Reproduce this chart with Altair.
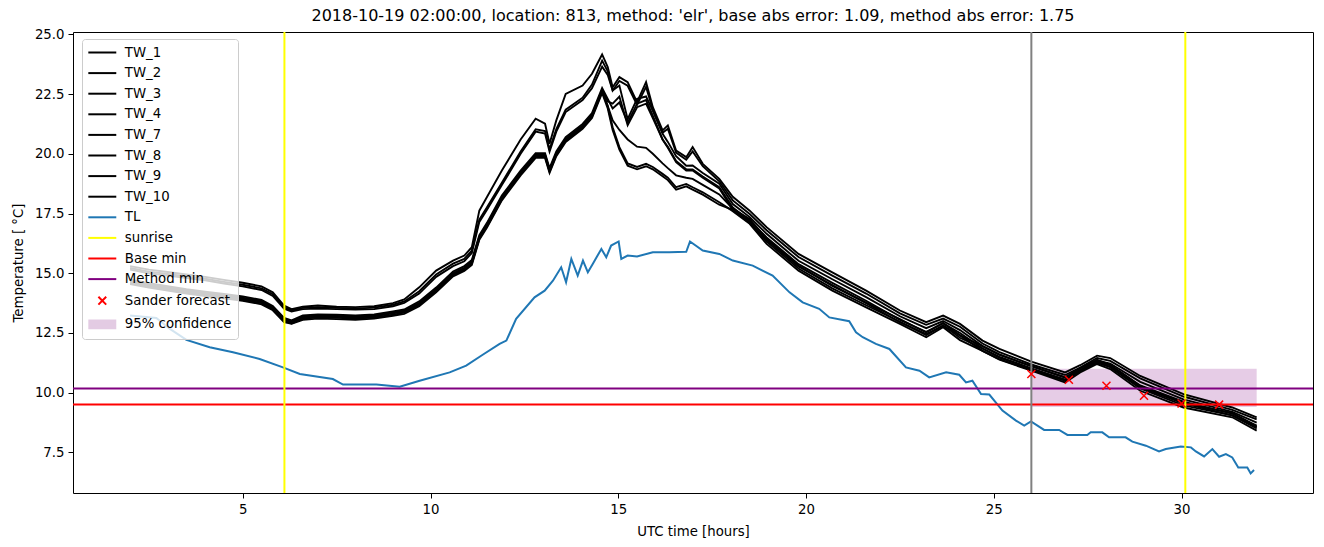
import altair as alt
import pandas as pd

# ---------------- data ----------------
TW_HOURS = [2.0, 2.5, 3.0, 3.5, 4.0, 4.5, 5.0, 5.5, 5.8, 6.1, 6.3, 6.6, 7.0, 7.5, 8.0, 8.5, 9.0, 9.3,
            9.7, 10.15, 10.6, 10.9, 11.1, 11.3, 11.5, 11.9, 12.4, 12.8, 13.05, 13.17, 13.35, 13.6, 14.05, 14.3, 14.57,
            14.72, 14.85, 15.03, 15.25, 15.5, 15.74, 15.92, 16.18, 16.32, 16.54, 16.81, 16.98, 17.25, 17.69,
            18.05, 18.5, 18.95, 19.8, 20.7, 21.6, 22.5, 23.2, 23.65, 24.1, 24.7, 25.15, 26.0, 26.9, 27.3, 27.75,
            28.1, 28.9, 30.05, 31.35, 32.0]

TW_1 = [15.3, 15.15, 15.05, 14.95, 14.85, 14.72, 14.6, 14.45, 14.2, 13.65, 13.5, 13.6, 13.65, 13.6, 13.58, 13.62, 13.75, 13.9,
        14.41, 15.11, 15.53, 15.74, 16.09, 17.62, 18.18, 19.30, 20.6, 21.47, 21.26, 20.42, 21.40, 22.51, 22.86, 23.35, 24.16,
        23.63, 22.79, 23.21, 23.0, 22.16, 23.0, 21.95, 20.98, 21.19, 20.14, 19.86, 20.28, 19.58, 18.95,
        18.2, 17.62, 16.93, 15.81, 15.04, 14.27, 13.44, 12.95, 13.23, 12.88, 12.18, 11.83, 11.3, 10.85, 11.15, 11.55,
        11.45, 10.7, 9.94, 9.38, 8.97]
TW_2 = [15.22, 15.07, 14.97, 14.87, 14.77, 14.64, 14.52, 14.37, 14.12, 13.58, 13.45, 13.55, 13.58, 13.55, 13.52, 13.56, 13.68, 13.82,
        14.25, 14.95, 15.4, 15.6, 15.95, 17.25, 17.75, 18.79, 20.1, 21.03, 20.95, 20.19, 21.03, 21.85, 22.35, 22.9, 23.9,
        23.45, 22.65, 23.05, 22.85, 22.05, 22.8, 21.85, 20.88, 21.05, 20.05, 19.75, 20.1, 19.48, 18.85,
        18.05, 17.48, 16.8, 15.68, 14.9, 14.15, 13.32, 12.84, 13.1, 12.76, 12.06, 11.7, 11.18, 10.74, 11.05, 11.45,
        11.33, 10.6, 9.84, 9.28, 8.88]
TW_3 = [15.15, 15.0, 14.9, 14.8, 14.7, 14.57, 14.45, 14.3, 14.05, 13.52, 13.4, 13.5, 13.52, 13.5, 13.48, 13.5, 13.62, 13.76,
        14.15, 14.85, 15.3, 15.5, 15.85, 17.15, 17.65, 18.69, 20.0, 20.93, 20.85, 20.09, 20.93, 21.75, 22.25, 22.75, 23.65,
        23.3, 22.65, 22.86, 21.45, 22.3, 22.4, 21.8, 20.84, 20.5, 19.9, 19.5, 19.51, 19.2, 18.75,
        17.9, 17.35, 16.65, 15.52, 14.75, 14.0, 13.2, 12.7, 13.0, 12.62, 11.95, 11.6, 11.1, 10.65, 10.95, 11.35,
        11.22, 10.45, 9.72, 9.2, 8.75]
TW_4 = [14.73, 14.58, 14.46, 14.33, 14.23, 14.13, 14.03, 13.88, 13.63, 13.13, 13.03, 13.23, 13.28, 13.26, 13.23, 13.28, 13.4, 13.48,
        13.82, 14.4, 15.07, 15.3, 15.55, 16.6, 17.1, 18.25, 19.3, 20.03, 20.03, 19.4, 20.1, 20.7, 21.25, 21.7, 22.75,
        22.3, 21.9, 22.15, 21.3, 22.1, 22.25, 21.6, 20.6, 20.3, 19.7, 19.35, 19.35, 19.05, 18.6,
        17.75, 17.2, 16.5, 15.38, 14.6, 13.85, 13.05, 12.55, 12.9, 12.5, 11.85, 11.5, 11.02, 10.55, 10.95, 11.3,
        11.15, 10.3, 9.62, 9.12, 8.62]
TW_7 = [14.65, 14.5, 14.38, 14.25, 14.15, 14.05, 13.95, 13.8, 13.55, 13.05, 12.95, 13.15, 13.2, 13.18, 13.15, 13.2, 13.32, 13.4,
        13.72, 14.3, 14.97, 15.2, 15.45, 16.5, 17.0, 18.15, 19.2, 19.93, 19.93, 19.30, 20.0, 20.6, 21.15, 21.6, 22.65,
        22.0, 21.4, 21.0, 20.6, 20.3, 20.25, 20.0, 19.6, 19.4, 19.1, 19.0, 18.95, 18.7, 18.3,
        17.7, 17.27, 16.45, 15.31, 14.47, 13.77, 13.08, 12.52, 12.92, 12.4, 11.95, 11.58, 11.12, 10.63, 11.03, 11.38,
        11.17, 10.28, 9.56, 9.15, 8.58]
TW_8 = [14.6, 14.45, 14.33, 14.2, 14.1, 14.0, 13.9, 13.75, 13.5, 13.0, 12.9, 13.1, 13.15, 13.13, 13.1, 13.15, 13.27, 13.35,
        13.67, 14.25, 14.92, 15.15, 15.4, 16.45, 16.95, 18.1, 19.15, 19.88, 19.88, 19.25, 19.95, 20.55, 21.1, 21.55, 22.6,
        22.0, 21.11, 20.28, 19.6, 19.45, 19.58, 19.45, 19.16, 19.0, 18.60, 18.74, 18.6, 18.39, 17.97,
        17.6, 17.07, 16.23, 15.11, 14.27, 13.57, 12.88, 12.32, 12.74, 12.2, 11.75, 11.38, 10.92, 10.43, 10.85, 11.2,
        10.99, 10.08, 9.38, 8.97, 8.41]
TW_9 = [14.55, 14.4, 14.28, 14.15, 14.05, 13.95, 13.85, 13.7, 13.45, 12.95, 12.88, 13.05, 13.1, 13.08, 13.05, 13.1, 13.22, 13.3,
        13.62, 14.2, 14.87, 15.1, 15.35, 16.4, 16.9, 18.05, 19.1, 19.83, 19.83, 19.2, 19.9, 20.5, 21.05, 21.5, 22.55,
        21.9, 21.0, 20.18, 19.5, 19.35, 19.48, 19.35, 19.06, 18.9, 18.5, 18.64, 18.5, 18.29, 17.87,
        17.65, 17.15, 16.33, 15.2, 14.37, 13.66, 12.97, 12.41, 12.82, 12.3, 11.85, 11.47, 11.0, 10.52, 10.93, 11.28,
        11.07, 10.18, 9.47, 9.05, 8.5]
TW_10 = [14.68, 14.53, 14.41, 14.28, 14.18, 14.08, 13.98, 13.83, 13.58, 13.08, 12.98, 13.18, 13.23, 13.21, 13.18, 13.23, 13.35, 13.43,
         13.75, 14.33, 15.0, 15.23, 15.48, 16.53, 17.03, 18.18, 19.23, 19.96, 19.96, 19.33, 20.03, 20.63, 21.18, 21.63, 22.68,
         22.2, 22.1, 22.4, 21.2, 21.95, 22.1, 21.5, 20.6, 20.25, 19.65, 19.3, 19.3, 19.0, 18.55,
         17.65, 17.1, 16.4, 15.28, 14.5, 13.75, 12.95, 12.45, 12.8, 12.4, 11.75, 11.4, 10.95, 10.5, 10.9, 11.25,
         11.08, 10.22, 9.55, 9.05, 8.55]

TL_HOURS = [2.0, 2.7, 3.06, 3.5, 4.12, 4.74, 5.45, 6.07, 6.52, 7.4, 7.67, 8.56, 9.18, 9.71, 10.51, 10.95, 11.4,
            11.84, 12.02, 12.28, 12.77, 13.04, 13.26, 13.48, 13.61, 13.75, 13.92, 14.06, 14.19, 14.32, 14.55,
            14.68, 14.81, 15.01, 15.08, 15.25, 15.5, 15.92, 16.36, 16.81, 16.91, 17.25, 17.69, 18.05, 18.58,
            19.11, 19.56, 19.91, 20.35, 20.62, 21.15, 21.33, 21.51, 21.86, 22.22, 22.66, 23.02, 23.28, 23.73,
            24.08, 24.26, 24.43, 24.66, 24.88, 25.23, 25.59, 25.81, 25.99, 26.34, 26.74, 26.96, 27.49, 27.58,
            27.89, 28.07, 28.51, 28.69, 29.05, 29.4, 29.58, 29.98, 30.25, 30.38, 30.6, 30.82, 31.0, 31.18,
            31.35, 31.51, 31.75, 31.84, 31.93]
TL_VALUES = [13.23, 13.13, 12.67, 12.21, 11.9, 11.69, 11.41, 11.06, 10.78, 10.57, 10.34, 10.34, 10.25, 10.5, 10.85, 11.13, 11.6,
             12.04, 12.18, 13.09, 13.99, 14.27, 14.69, 15.25, 14.62, 15.6, 14.9, 15.53, 15.04, 15.39, 16.02,
             15.67, 16.16, 16.33, 15.6, 15.74, 15.7, 15.88, 15.88, 15.9, 16.33, 15.95, 15.81, 15.53, 15.32,
             14.9, 14.2, 13.78, 13.51, 13.15, 12.99, 12.53, 12.32, 12.04, 11.83, 11.06, 10.92, 10.64, 10.85,
             10.75, 10.43, 10.5, 9.94, 9.92, 9.25, 8.83, 8.62, 8.80, 8.44, 8.44, 8.23, 8.23, 8.34,
             8.34, 8.13, 8.13, 7.95, 7.78, 7.54, 7.64, 7.75, 7.71, 7.54, 7.33, 7.64, 7.32, 7.43,
             7.29, 6.87, 6.87, 6.62, 6.76]

SUNRISE = [6.11, 30.1]
FORECAST_START = [26.0]
BASE_MIN = [9.51]
METHOD_MIN = [10.18]
SANDER_HOURS = [26, 27, 28, 29, 30, 31]
SANDER_VALUES = [10.78, 10.54, 10.29, 9.87, 9.55, 9.50]
CONF_X = [26.0, 32.0]
CONF_Y = [9.40, 11.0]

LEGEND_LABELS = ["TW_1", "TW_2", "TW_3", "TW_4", "TW_7", "TW_8", "TW_9", "TW_10", "TL",
                 "sunrise", "Base min", "Method min", "Sander forecast", "95% confidence"]
LEGEND_COLORS = ["black"] * 8 + ["#1f77b4", "yellow", "red", "purple", "red", "#e3cbe3"]

TITLE = "2018-10-19 02:00:00, location: 813, method: 'elr', base abs error: 1.09, method abs error: 1.75"

# ---------------- build tables ----------------
tw_series = {"TW_1": TW_1, "TW_2": TW_2, "TW_3": TW_3, "TW_4": TW_4,
             "TW_7": TW_7, "TW_8": TW_8, "TW_9": TW_9, "TW_10": TW_10}
rows = []
for name, vals in tw_series.items():
    assert len(vals) == len(TW_HOURS), name
    for h, v in zip(TW_HOURS, vals):
        rows.append({"h": h, "T": v, "series": name})
tw_df = pd.DataFrame(rows)
tl_df = pd.DataFrame({"h": TL_HOURS, "T": TL_VALUES})
sun_df = pd.DataFrame({"h": SUNRISE})
fc_df = pd.DataFrame({"h": FORECAST_START})
base_df = pd.DataFrame({"T": BASE_MIN})
meth_df = pd.DataFrame({"T": METHOD_MIN})
sander_df = pd.DataFrame({"h": SANDER_HOURS, "T": SANDER_VALUES})
band_df = pd.DataFrame({"x1": [CONF_X[0]], "x2": [CONF_X[1]], "y1": [CONF_Y[0]], "y2": [CONF_Y[1]]})
legend_df = pd.DataFrame({"label": LEGEND_LABELS})

FONT = "DejaVu Sans"
XT = "UTC time [hours]"
YT = "Temperature [ °C]"
xs = alt.Scale(domain=[0.48, 33.5], nice=False, zero=False)
ys = alt.Scale(domain=[5.8, 25.1], nice=False, zero=False)
xaxis = alt.Axis(values=[5, 10, 15, 20, 25, 30], format="d", labelPadding=4, titlePadding=9)
yaxis = alt.Axis(values=[7.5, 10, 12.5, 15, 17.5, 20, 22.5, 25], format=".1f", labelPadding=4, titlePadding=9)


def X(f):
    return alt.X(f"{f}:Q", scale=xs, axis=xaxis, title=XT)


def Y(f):
    return alt.Y(f"{f}:Q", scale=ys, axis=yaxis, title=YT)


band = alt.Chart(band_df).mark_rect(color="purple", opacity=0.2).encode(
    x=X("x1"), x2=alt.X2("x2", title=XT), y=Y("y1"), y2=alt.Y2("y2", title=YT))

tw = alt.Chart(tw_df).mark_line(color="black", strokeWidth=1.9).encode(
    x=X("h"), y=Y("T"), detail="series:N")

tl = alt.Chart(tl_df).mark_line(color="#1f77b4", strokeWidth=2).encode(x=X("h"), y=Y("T"))

base = alt.Chart(base_df).mark_rule(color="red", strokeWidth=2).encode(y=Y("T"))
meth = alt.Chart(meth_df).mark_rule(color="purple", strokeWidth=2).encode(y=Y("T"))
fc = alt.Chart(fc_df).mark_rule(color="gray", strokeWidth=2).encode(x=X("h"))
sun = alt.Chart(sun_df).mark_rule(color="yellow", strokeWidth=2).encode(x=X("h"))

XPATH = "M-1,-1L1,1M-1,1L1,-1"
sander = alt.Chart(sander_df).mark_point(shape=XPATH, size=64, color="red", filled=False,
                                          strokeWidth=1.5, opacity=1).encode(x=X("h"), y=Y("T"))

LINE_SYM = "M-2.15,0L2.15,0"
X_SYM = "M-0.6,-0.6L0.6,0.6M-0.6,0.6L0.6,-0.6"
RECT_SYM = "".join(f"M-2.15,{y}L2.15,{y}" for y in ["-0.6", "-0.4", "-0.2", "0", "0.2", "0.4", "0.6"])
LEGEND_SHAPES = [LINE_SYM] * 12 + [X_SYM, RECT_SYM]

leg = alt.Legend(title=None, orient="none", legendX=9, legendY=7, padding=6,
                 fillColor="rgba(255,255,255,0.8)", strokeColor="#cccccc", cornerRadius=3,
                 labelFont=FONT, labelFontSize=13.3, labelColor="black",
                 symbolSize=169, symbolStrokeWidth=2, symbolOffset=6.8, labelOffset=15,
                 rowPadding=6.6, symbolOpacity=1)

legend_layer = alt.Chart(legend_df).transform_filter("false").mark_point(filled=False, opacity=1).encode(
    color=alt.Color("label:N", scale=alt.Scale(domain=LEGEND_LABELS, range=LEGEND_COLORS), legend=leg),
    shape=alt.Shape("label:N", scale=alt.Scale(domain=LEGEND_LABELS, range=LEGEND_SHAPES), legend=leg),
)

chart = alt.layer(band, tw, tl, base, meth, fc, sun, sander, legend_layer).properties(
    width=1240, height=461,
    title=alt.TitleParams(TITLE, font=FONT, fontSize=16, fontWeight="normal", color="black",
                          anchor="middle", frame="group", offset=3),
    autosize=alt.AutoSizeParams(type="none"),
    padding={"left": 73, "top": 32, "right": 11, "bottom": 54},
).configure_view(stroke="black", strokeWidth=1).configure_axis(
    labelFont=FONT, labelFontSize=13.3, labelColor="black", tickColor="black", tickSize=5, tickWidth=1,
    domain=False, grid=False, titleFont=FONT, titleFontSize=13.3, titleFontWeight="normal", titleColor="black",
)

chart.save("out.html", embed_options={"renderer": "svg", "actions": False})
